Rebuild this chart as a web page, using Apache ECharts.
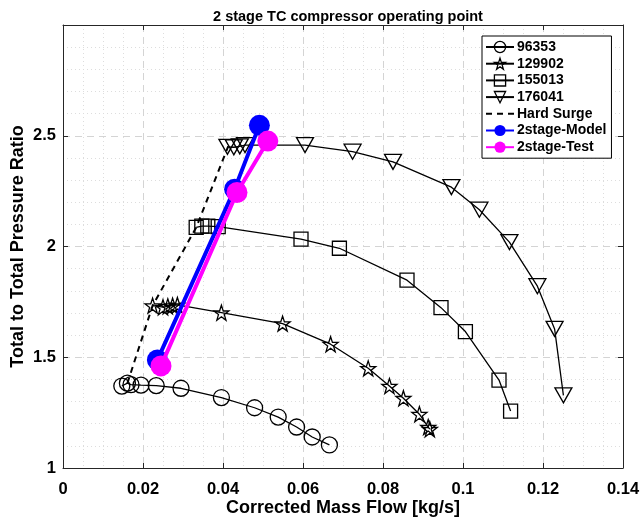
<!DOCTYPE html>
<html>
<head>
<meta charset="utf-8">
<title>2 stage TC compressor operating point</title>
<script src="https://cdn.jsdelivr.net/npm/echarts@6/dist/echarts.min.js"></script>
<style>
  html, body { margin: 0; padding: 0; background: #fff; }
  #main { width: 642px; height: 522px; }
</style>
</head>
<body>
<div id="main"></div>
<script>
// speed lines (corrected mass flow kg/s, total pressure ratio)
var n96353X = [0.0147, 0.0161, 0.0170, 0.0195, 0.0233, 0.0295, 0.0396, 0.0479, 0.0538, 0.0584, 0.0623, 0.0666];
var n96353Y = [1.370, 1.383, 1.376, 1.374, 1.372, 1.360, 1.318, 1.272, 1.230, 1.185, 1.140, 1.104];

var n129902X = [0.0224, 0.0250, 0.0262, 0.0274, 0.0286, 0.0396, 0.0549, 0.0669, 0.0763, 0.0816, 0.0851, 0.0891, 0.0913, 0.0917];
var n129902Y = [1.733, 1.726, 1.730, 1.733, 1.736, 1.701, 1.652, 1.559, 1.450, 1.370, 1.315, 1.243, 1.185, 1.175];

var n155013X = [0.0333, 0.0347, 0.0362, 0.0388, 0.0595, 0.0691, 0.0860, 0.0945, 0.1006, 0.1090, 0.1119];
var n155013Y = [2.086, 2.092, 2.092, 2.090, 2.033, 1.992, 1.848, 1.724, 1.616, 1.397, 1.257];

var n176041X = [0.0411, 0.0427, 0.0442, 0.0455, 0.0605, 0.0724, 0.0825, 0.0971, 0.1041, 0.1116, 0.1186, 0.1229, 0.1251];
var n176041Y = [2.450, 2.448, 2.452, 2.458, 2.458, 2.428, 2.382, 2.268, 2.166, 2.020, 1.821, 1.628, 1.328];

var surgeX = [0.0161, 0.0224, 0.0333, 0.0413];
var surgeY = [1.383, 1.733, 2.086, 2.452];

var modelX = [0.0236, 0.0429, 0.0491];
var modelY = [1.488, 2.259, 2.547];

var testX = [0.0245, 0.0435, 0.0512];
var testY = [1.461, 2.244, 2.476];

var xTicks = [0, 0.02, 0.04, 0.06, 0.08, 0.1, 0.12, 0.14];
var yTicks = [1, 1.5, 2, 2.5];

function pairs(xs, ys) {
  var out = [];
  for (var i = 0; i < xs.length; i++) out.push([xs[i], ys[i]]);
  return out;
}

var starPath = 'path://M50,0 L61.8,35.1 L98.1,35.1 L68.8,56.7 L79.4,91 L50,70 L20.6,91 L31.2,56.7 L1.9,35.1 L38.2,35.1 Z';
var fontFam = '"Liberation Sans", Arial, Helvetica, sans-serif';
var axisCol = '#262626';
var openMark = { color: 'rgba(255,255,255,0)', borderColor: '#000', borderWidth: 1.3 };

function speedLine(name, xs, ys, symbol, size, rotate) {
  return {
    name: name,
    type: 'line',
    data: pairs(xs, ys),
    symbol: symbol,
    symbolSize: size,
    symbolRotate: rotate || 0,
    showAllSymbol: true,
    lineStyle: { color: '#000', width: 1.3 },
    itemStyle: openMark,
    emphasis: { disabled: true },
    z: 3
  };
}

var myChart = echarts.init(document.getElementById('main'));
var option = {
  animation: false,
  backgroundColor: '#fff',
  textStyle: { fontFamily: fontFam },
  title: {
    text: '2 stage TC compressor operating point',
    left: 343, top: 4, textAlign: 'center',
    textStyle: { fontSize: 14.5, fontWeight: 'bold', color: '#000', fontFamily: fontFam }
  },
  grid: { left: 63, right: 19, top: 25, bottom: 54, outerBoundsMode: 'none' },
  legend: {
    orient: 'vertical',
    left: 482, top: 36,
    itemWidth: 28, itemHeight: 14, itemGap: 2.7,
    padding: [4, 5, 4, 3],
    backgroundColor: '#fff',
    borderColor: '#000', borderWidth: 1,
    textStyle: { fontSize: 14, fontWeight: 'bold', color: '#000', fontFamily: fontFam, padding: [0, 0, 0, -2] },
    data: [
      { name: '96353', itemStyle: openMark },
      { name: '129902', itemStyle: openMark },
      { name: '155013', itemStyle: openMark },
      { name: '176041', itemStyle: openMark },
      { name: 'Hard Surge', itemStyle: { opacity: 0 } },
      { name: '2stage-Model' },
      { name: '2stage-Test' }
    ]
  },
  xAxis: [{
    type: 'value', min: 0, max: 0.14, interval: 0.02,
    name: 'Corrected Mass Flow [kg/s]', nameLocation: 'middle', nameGap: 31,
    nameMoveOverlap: false,
    nameTextStyle: { fontSize: 18, fontWeight: 'bold', color: '#000' },
    axisLine: { onZero: false, lineStyle: { color: axisCol } },
    axisTick: { inside: true, length: 5, lineStyle: { color: axisCol } },
    axisLabel: { margin: 13, fontSize: 16.5, fontWeight: 'bold', color: '#000',
      formatter: function (v) { return String(Math.round(v * 100) / 100); } },
    splitLine: { show: true, lineStyle: { color: '#d4d4d4', type: [7, 5] } },
    minorTick: { show: true, splitNumber: 4, length: 0 },
    minorSplitLine: { show: true, lineStyle: { color: '#dddddd', type: [1, 3] } }
  }, {
    type: 'value', min: 0, max: 0.14, interval: 0.02, position: 'top',
    axisLine: { onZero: false, lineStyle: { color: axisCol } },
    axisTick: { inside: true, length: 5, lineStyle: { color: axisCol } },
    axisLabel: { show: false }, splitLine: { show: false }
  }],
  yAxis: [{
    type: 'value', min: 1, max: 3, interval: 0.5,
    name: 'Total to Total Pressure Ratio', nameLocation: 'middle', nameGap: 36,
    nameMoveOverlap: false,
    nameTextStyle: { fontSize: 18, fontWeight: 'bold', color: '#000' },
    axisLine: { show: true, onZero: false, lineStyle: { color: axisCol } },
    axisTick: { show: true, inside: true, length: 5, lineStyle: { color: axisCol } },
    axisLabel: { margin: 7, fontSize: 16.5, fontWeight: 'bold', color: '#000', showMaxLabel: false },
    splitLine: { show: true, lineStyle: { color: '#d4d4d4', type: [7, 5] } },
    minorTick: { show: true, splitNumber: 5, length: 0 },
    minorSplitLine: { show: true, lineStyle: { color: '#dddddd', type: [1, 3] } }
  }, {
    type: 'value', min: 1, max: 3, interval: 0.5, position: 'right',
    axisLine: { show: true, onZero: false, lineStyle: { color: axisCol } },
    axisTick: { show: true, inside: true, length: 5, lineStyle: { color: axisCol } },
    axisLabel: { show: false }, splitLine: { show: false }
  }],
  series: [
    speedLine('96353', n96353X, n96353Y, 'circle', 16),
    speedLine('129902', n129902X, n129902Y, starPath, 15),
    speedLine('155013', n155013X, n155013Y, 'rect', 14),
    speedLine('176041', n176041X, n176041Y, 'triangle', [17, 15], 180),
    {
      name: 'Hard Surge', type: 'line', data: pairs(surgeX, surgeY),
      symbol: 'none',
      lineStyle: { color: '#000', width: 2, type: [6, 5] },
      itemStyle: { color: '#000' },
      emphasis: { disabled: true }, z: 4
    },
    {
      name: '2stage-Model', type: 'line', data: pairs(modelX, modelY),
      symbol: 'circle', symbolSize: 21,
      lineStyle: { color: '#0000ff', width: 4 },
      itemStyle: { color: '#0000ff' },
      emphasis: { disabled: true }, z: 5
    },
    {
      name: '2stage-Test', type: 'line', data: pairs(testX, testY),
      symbol: 'circle', symbolSize: 21,
      lineStyle: { color: '#ff00ff', width: 4 },
      itemStyle: { color: '#ff00ff' },
      emphasis: { disabled: true }, z: 6
    }
  ]
};
myChart.setOption(option);
</script>
</body>
</html>
